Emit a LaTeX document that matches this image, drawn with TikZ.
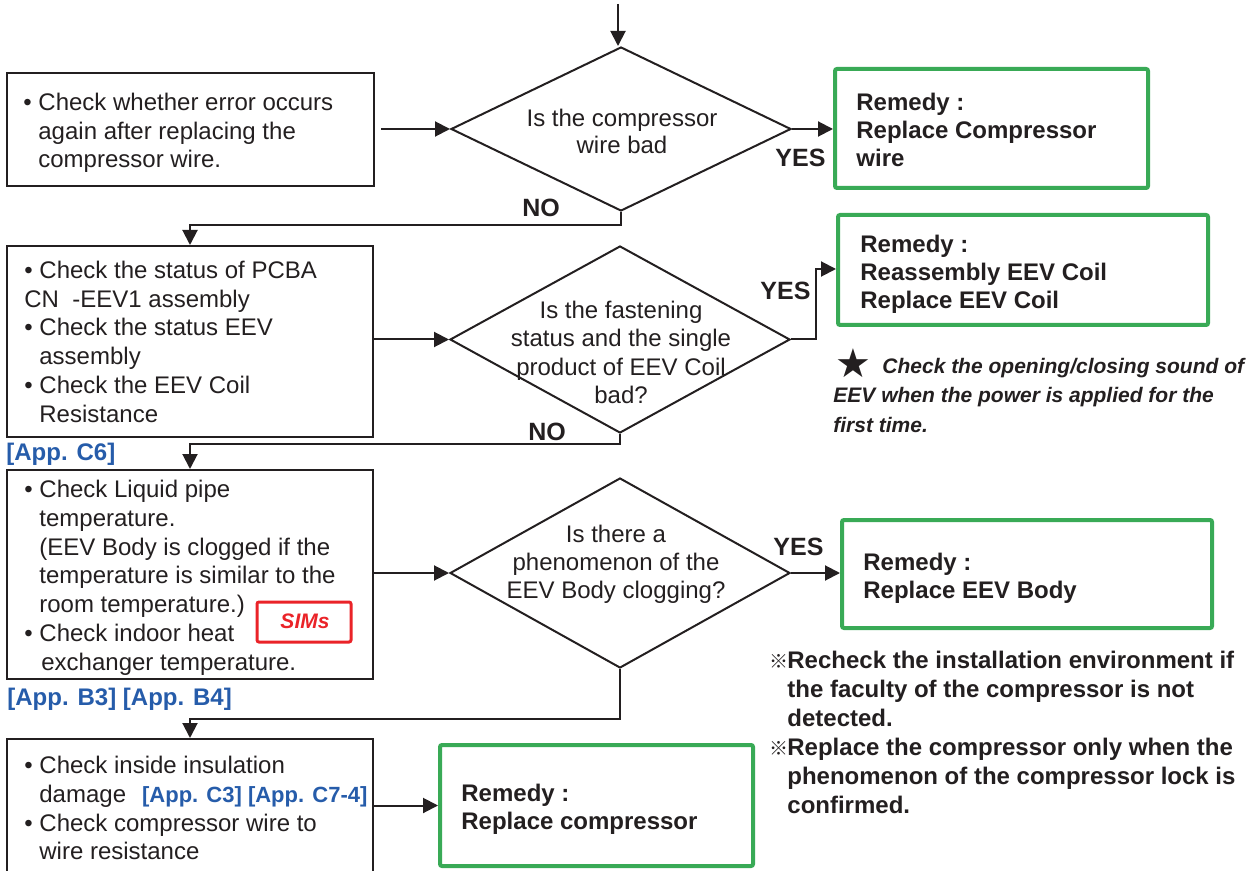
\documentclass[tikz,border=0pt]{standalone}
\usepackage{fontspec}
\setmainfont{Liberation Sans}
\newfontfamily\dejavu{DejaVu Sans}
\newfontfamily\cjkjp{Noto Sans CJK JP}
\usetikzlibrary{shapes.geometric,arrows.meta,fit}
\definecolor{ink}{RGB}{35,31,32}
\definecolor{remgreen}{RGB}{57,170,86}
\definecolor{appblue}{RGB}{38,92,170}
\definecolor{simred}{RGB}{234,35,40}
\newcommand\ind{\hspace*{7.5pt}}
\newcommand\fl{\rule{0pt}{10pt}}
\newcommand\refmk{\makebox[9pt][l]{\cjkjp\fontsize{9.5}{9.5}\selectfont ※}}
\begin{document}
\begin{tikzpicture}[x=0.5pt,y=-0.5pt,
 every node/.style={inner sep=0pt, text=ink},
 chkbox/.style={draw=ink, line width=1pt},
 dec/.style={diamond, draw=ink, line width=1pt, minimum width=170pt},
 rembox/.style={draw=remgreen, line width=2pt, rounded corners=1pt},
 body/.style={font=\fontsize{12}{14.4}\selectfont, align=left, anchor=north west},
 ask/.style={font=\fontsize{12}{14.2}\selectfont, align=center, anchor=north},
 rem/.style={font=\bfseries\fontsize{12}{14.1}\selectfont, align=left, anchor=north west},
 yn/.style={font=\bfseries\fontsize{12.5}{15}\selectfont, anchor=base west},
 app/.style={font=\bfseries\fontsize{12}{14}\selectfont, text=appblue, anchor=base west},
 arr/.style={draw=ink, line width=1pt, -{Triangle[length=7.5pt,width=7.5pt]}},
]
\useasboundingbox (0,0) rectangle (1252,871);

% check boxes
\node[chkbox, fit={(7,73) (374,186)}] (b1) {};
\node[chkbox, fit={(7,246) (373,437)}] (b2) {};
\node[chkbox, fit={(7,470) (373,679)}] (b3) {};
\node[chkbox, fit={(7,739) (373,890)}] (b4) {};

\node[body] (t1) at (23,90) {\fl• Check whether error occurs\\\ind again after replacing the\\\ind compressor wire.};
\node[body] (t2) at (24,258) {\fl• Check the status of PCBA\\CN~~-EEV1 assembly\\• Check the status EEV\\\ind assembly\\• Check the EEV Coil\\\ind Resistance};
\node[body] (t3) at (24,477) {\fl• Check Liquid pipe\\\ind temperature.\\\ind (EEV Body is clogged if the\\\ind temperature is similar to the\\\ind room temperature.)\\• Check indoor heat\\\ind\hspace*{1pt}exchanger temperature.};
\node[body] (t4) at (24,753) {\fl• Check inside insulation\\\ind damage\hspace*{8pt}{\color{appblue}\bfseries\fontsize{11}{14}\selectfont [App. C3] [App. C7-4]}\\• Check compressor wire to\\\ind wire resistance};

% SIMs
\node[draw=simred, line width=1.5pt, rounded corners=1pt, fit={(257,602) (351,642)}] (sims) {};
\node[font=\bfseries\itshape\fontsize{10.5}{12}\selectfont, text=simred, anchor=base] (simst) at (305,628) {SIMs};

% app labels
\node[app] (appc6) at (6,460) {[App. C6]};
\node[app] (appb) at (7,705) {[App. B3] [App. B4]};

% decisions
\node[dec, minimum height=82pt] (d1) at (621,129) {};
\node[dec, minimum height=93.5pt] (d2) at (620,339.5) {};
\node[dec, minimum height=95pt] (d3) at (620,573) {};
\node[ask, font=\fontsize{12}{13.6}\selectfont] (q1) at (622,106) {\fl Is the compressor\\wire bad};
\node[ask] (q2) at (621,298) {\fl Is the fastening\\status and the single\\product of EEV Coil\\bad?};
\node[ask, font=\fontsize{12}{14}\selectfont] (q3) at (616,522) {\fl Is there a\\phenomenon of the\\EEV Body clogging?};

% remedies
\node[rembox, fit={(835,69) (1148,188)}] (r1) {};
\node[rembox, fit={(838,215) (1208,325)}] (r2) {};
\node[rembox, fit={(842,520) (1212,628)}] (r3) {};
\node[rembox, fit={(440,745) (753,866)}] (r4) {};
\node[rem] (rt1) at (856,90) {\fl Remedy :\\Replace Compressor\\wire};
\node[rem] (rt2) at (860,232) {\fl Remedy :\\Reassembly EEV Coil\\Replace EEV Coil};
\node[rem] (rt3) at (863,550) {\fl Remedy :\\Replace EEV Body};
\node[rem] (rt4) at (461,781) {\fl Remedy :\\Replace compressor};

% YES / NO
\node[yn] (yes1) at (775,167) {YES};
\node[yn] (no1) at (522,217) {NO};
\node[yn] (yes2) at (760,300) {YES};
\node[yn] (no2) at (528,440) {NO};
\node[yn] (yes3) at (773,555) {YES};

% notes
\node[anchor=base west, font=\dejavu\fontsize{20}{20}\selectfont] (star) at (835,378) {★};
\node[font=\bfseries\itshape\fontsize{10.5}{14.75}\selectfont, align=left, anchor=north west] (starnote) at (833,353)
  {\fl\hspace*{24.5pt}Check the opening/closing sound of\\EEV when the power is applied for the\\first time.};
\node[font=\bfseries\fontsize{12}{14.5}\selectfont, align=left, anchor=north west] (notes) at (769,648)
  {\fl\refmk Recheck the installation environment if\\\hspace*{9pt}the faculty of the compressor is not\\\hspace*{9pt}detected.\\\refmk Replace the compressor only when the\\\hspace*{9pt}phenomenon of the compressor lock is\\\hspace*{9pt}confirmed.};

% connectors
\coordinate (start) at (618,4);
\draw[arr] (start) -- (d1.north -| start);
\draw[arr] (b1.east |- d1.west) ++(6,0) -- (d1.west);
\draw[arr] (d1.east) -- (d1.east -| r1.west);
\draw[arr] (d1.south) -- ++(0,13) -| (b2.north);
\draw[arr] (b2.east |- d2.west) -- (d2.west);
\draw[arr] (d2.east) -- ++(25,0) |- ([yshift=0.5pt]r2.west);
\draw[arr] (d2.south) -- ++(0,10) -| (b3.north);
\draw[arr] (b3.east |- d3.west) -- (d3.west);
\draw[arr] (d3.east) -- (d3.east -| r3.west);
\draw[arr] (d3.south) -- ++(0,50) -| (b4.north);
\draw[arr] (r4.west -| b4.east) -- (r4.west);
\end{tikzpicture}
\end{document}
